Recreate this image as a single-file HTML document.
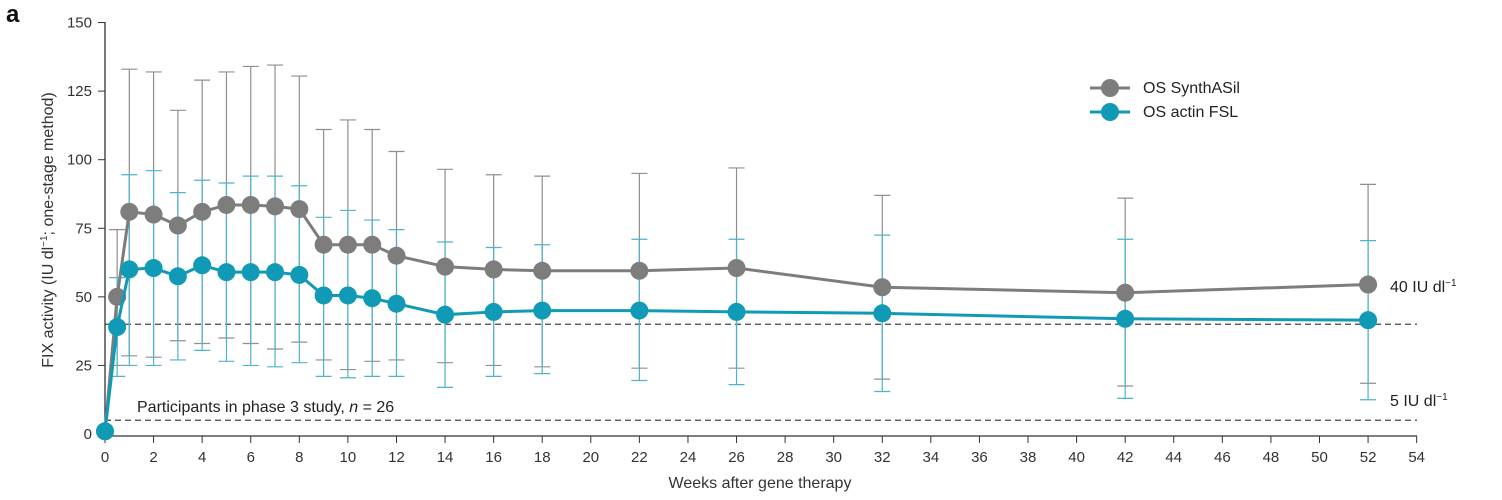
<!DOCTYPE html>
<html><head><meta charset="utf-8"><style>
html,body{margin:0;padding:0;background:#fff;}
svg{display:block;font-family:"Liberation Sans",sans-serif;}
</style></head><body>
<svg id="c" width="1502" height="500" xmlns="http://www.w3.org/2000/svg"></svg>
<script>
const X=w=>105+w*24.29, Y=v=>434-v*2.743;
const g=[[0,1],[0.5,50,74.5,25],[1,81,133,28.5],[2,80,132,28],[3,76,118,34],[4,81,129,33],[5,83.5,132,35],[6,83.5,134,33],[7,83,134.5,31],[8,82,130.5,33.5],[9,69,111,27],[10,69,114.5,23.5],[11,69,111,26.5],[12,65,103,27],[14,61,96.5,26],[16,60,94.5,25],[18,59.5,94,24.5],[22,59.5,95,24],[26,60.5,97,24],[32,53.5,87,20],[42,51.5,86,17.5],[52,54.5,91,18.5]];
const t=[[0,1],[0.5,39,57,21],[1,60,94.5,25],[2,60.5,96,25],[3,57.5,88,27],[4,61.5,92.5,30.5],[5,59,91.5,26.5],[6,59,94,25],[7,59,94,24.5],[8,58,90.5,26],[9,50.5,79,21],[10,50.5,81.5,20.5],[11,49.5,78,21],[12,47.5,74.5,21],[14,43.5,70,17],[16,44.5,68,21],[18,45,69,22],[22,45,71,19.5],[26,44.5,71,18],[32,44,72.5,15.5],[42,42,71,13],[52,41.5,70.5,12.5]];
let s='';
s+=`<text x="6" y="22" font-size="24" font-weight="bold" fill="#111">a</text>`;
[40,5].forEach(v=>s+=`<line x1="105" x2="1417" y1="${Y(v)}" y2="${Y(v)}" stroke="#444" stroke-width="1.2" stroke-dasharray="6,4"/>`);
s+=`<line x1="105" x2="105" y1="22" y2="436" stroke="#333" stroke-width="1.3"/>`;
s+=`<line x1="105" x2="1417" y1="436" y2="436" stroke="#333" stroke-width="1.3"/>`;
for(let v=0;v<=150;v+=25){s+=`<line x1="98" x2="105" y1="${Y(v)}" y2="${Y(v)}" stroke="#333"/><text x="92" y="${Y(v)+5}" font-size="15" text-anchor="end" fill="#333">${v}</text>`;}
for(let w=0;w<=54;w+=2){s+=`<line x1="${X(w)}" x2="${X(w)}" y1="436" y2="443" stroke="#333"/><text x="${X(w)}" y="462" font-size="15" text-anchor="middle" fill="#333">${w}</text>`;}
s+=`<text x="760" y="488" font-size="16" text-anchor="middle" fill="#333">Weeks after gene therapy</text>`;
s+=`<text transform="translate(53,230) rotate(-90)" font-size="16" text-anchor="middle" fill="#333">FIX activity (IU dl<tspan dy="-6" font-size="10">−1</tspan><tspan dy="6">; one-stage method)</tspan></text>`;
s+=`<text x="137" y="412" font-size="16" fill="#222">Participants in phase 3 study, <tspan font-style="italic">n</tspan> = 26</text>`;
s+=`<text x="1390" y="292" font-size="16" fill="#222">40 IU dl<tspan dy="-6" font-size="10">−1</tspan></text>`;
s+=`<text x="1390" y="406" font-size="16" fill="#222">5 IU dl<tspan dy="-6" font-size="10">−1</tspan></text>`;
function eb(d,c){d.forEach(p=>{if(p.length<4)return;const x=X(p[0]);s+=`<line x1="${x}" x2="${x}" y1="${Y(p[2])}" y2="${Y(p[3])}" stroke="${c}" stroke-width="1.2"/>`;[p[2],p[3]].forEach(v=>s+=`<line x1="${x-8}" x2="${x+8}" y1="${Y(v)}" y2="${Y(v)}" stroke="${c}" stroke-width="1.2"/>`);});}
function ln(d,c){s+=`<polyline fill="none" stroke="${c}" stroke-width="3" points="${d.map(p=>X(p[0])+','+Y(p[1])).join(' ')}"/>`;d.forEach(p=>s+=`<circle cx="${X(p[0])}" cy="${Y(p[1])}" r="9" fill="${c}"/>`);}
eb(g,'#8f8f8f');eb(t,'#4db5cb');
ln(g,'#7d7d7d');ln(t,'#119ab5');
s+=`<line x1="1090" x2="1130" y1="88" y2="88" stroke="#7d7d7d" stroke-width="3"/><circle cx="1110" cy="88" r="9" fill="#7d7d7d"/><text x="1143" y="93" font-size="16" fill="#222">OS SynthASil</text>`;
s+=`<line x1="1090" x2="1130" y1="112" y2="112" stroke="#119ab5" stroke-width="3"/><circle cx="1110" cy="112" r="9" fill="#119ab5"/><text x="1143" y="117" font-size="16" fill="#222">OS actin FSL</text>`;
document.getElementById('c').innerHTML=s;
</script>
</body></html>
